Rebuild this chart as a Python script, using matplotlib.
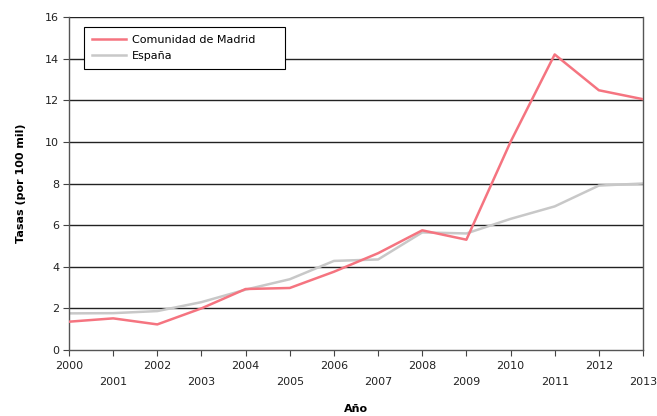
import matplotlib
matplotlib.use("Agg")
import matplotlib.pyplot as plt

years = list(range(2000, 2014))
madrid = [1.36, 1.52, 1.23, 2.0, 2.93, 2.98, 3.76, 4.65, 5.75, 5.3, 10.0, 14.2, 12.48, 12.05]
espana = [1.76, 1.77, 1.87, 2.3, 2.9, 3.4, 4.28, 4.35, 5.65, 5.6, 6.3, 6.9, 7.9, 8.0]
yticks = [0, 2, 4, 6, 8, 10, 12, 14, 16]

MADRID_COL = "#f57480"
ESP_COL = "#c8c8c8"

fig = plt.figure(figsize=(6.57, 4.16), dpi=100)
ax = fig.add_axes([69 / 657, 1 - 350 / 416, (643 - 69) / 657, (350 - 17) / 416])

for y in yticks[1:]:
    ax.axhline(y, color="#222222", lw=1.0, zorder=1)

ax.plot(years, madrid, color=MADRID_COL, lw=1.8, label="Comunidad de Madrid", zorder=3)
ax.plot(years, espana, color=ESP_COL, lw=1.8, label="España", zorder=2)

ax.set_xlim(2000, 2013)
ax.set_ylim(0, 16)
ax.set_yticks(yticks)
ax.set_xticks(years)
ax.set_xticklabels([str(y) if y % 2 == 0 else "\n" + str(y) for y in years],
                   linespacing=1.75)
ax.tick_params(axis="both", labelsize=8, color="#444444", length=4, width=0.8,
               labelcolor="#222222")
ax.tick_params(axis="x", pad=4)
ax.tick_params(axis="y", pad=3)

ax.spines["top"].set_visible(False)
for side in ["left", "right", "bottom"]:
    ax.spines[side].set_color("#555555")
    ax.spines[side].set_linewidth(1.0)

ax.set_ylabel("Tasas (por 100 mil)", fontsize=8, fontweight="bold", labelpad=14)
ax.set_xlabel("Año", fontsize=8, fontweight="bold", labelpad=12)

# legend box: x 84..285, y 27..71 px
x0 = (84 - 69) / 574
x1 = (285 - 69) / 574
ytop = (350 - 27) / 333
leg = ax.legend(loc="upper left", bbox_to_anchor=(x0, ytop - 0.2, x1 - x0, 0.2),
                mode="expand", borderaxespad=0, fontsize=8,
                frameon=True, fancybox=False, framealpha=1, edgecolor="black",
                handlelength=3, handletextpad=0.6, borderpad=0.75, labelspacing=0.5)
leg.get_frame().set_linewidth(0.8)

fig.savefig("out.png", dpi=100)
